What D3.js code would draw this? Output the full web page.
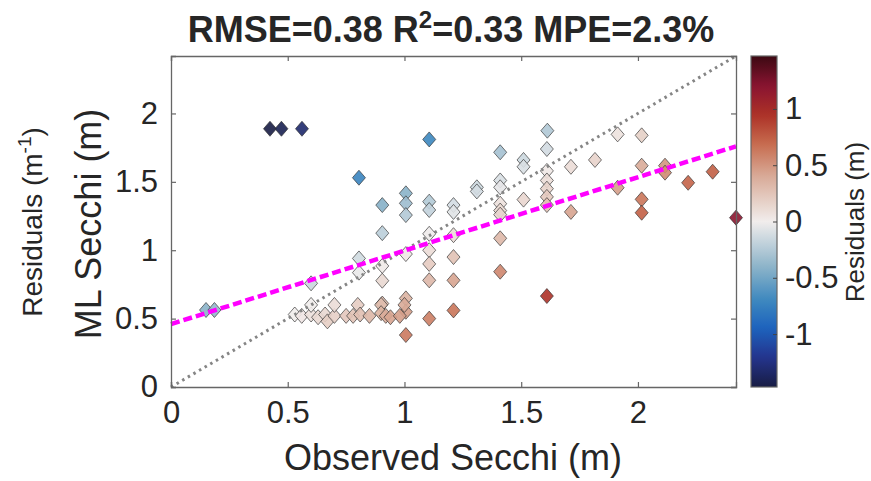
<!DOCTYPE html>
<html>
<head>
<meta charset="utf-8">
<script src="https://cdn.jsdelivr.net/npm/d3@7"></script>
<style>
  body { margin: 0; background: #fff; }
  text { font-family: "Liberation Sans", Arial, Helvetica, sans-serif; fill: #262626; }
</style>
</head>
<body>
<script>
var W = 871, H = 481;
var plot = {left: 171, right: 736, top: 56, bottom: 387};
var axisMax = 2.42;

// observed / ML-predicted Secchi depth (m)
var observed = [0.424, 0.473, 0.561, 1.106, 0.805, 0.15, 0.186, 0.60, 0.805, 0.805,
  0.905, 0.905, 0.905, 0.905, 0.905,
  1.006, 1.006, 1.006, 1.006, 1.006, 1.006, 1.006,
  1.106, 1.106, 1.106, 1.106, 1.106, 1.106, 1.106,
  1.21, 1.21, 1.21, 1.21, 1.21, 1.21,
  1.31, 1.31,
  1.41, 1.41, 1.41, 1.41, 1.41, 1.41, 1.41, 1.41,
  1.51, 1.51, 1.51,
  1.612, 1.61, 1.61, 1.61, 1.61, 1.61, 1.61, 1.61,
  1.713, 1.713, 1.816, 1.913, 1.913,
  2.016, 2.016, 2.016, 2.016, 2.116, 2.116, 2.215, 2.32, 2.42,
  0.53, 0.56, 0.60, 0.60, 0.63, 0.66, 0.67, 0.70, 0.70, 0.75,
  0.78, 0.80, 0.81, 0.85, 0.90, 0.90, 0.92, 0.94, 0.98, 1.00];
var predicted = [1.888, 1.888, 1.888, 1.81, 1.53, 0.563, 0.563, 0.758, 0.94, 0.836,
  1.33, 1.125, 0.885, 0.777, 0.61,
  1.416, 1.343, 1.257, 0.972, 0.648, 0.55, 0.38,
  1.355, 1.294, 1.12, 1.0, 0.90, 0.78, 0.50,
  1.33, 1.28, 1.11, 0.95, 0.78, 0.56,
  1.46, 1.43,
  1.716, 1.51, 1.46, 1.34, 1.29, 1.26, 1.087, 0.843,
  1.66, 1.61, 1.37,
  1.874, 1.74, 1.58, 1.51, 1.45, 1.39, 1.33, 0.665,
  1.61, 1.28, 1.66, 1.847, 1.457,
  1.84, 1.618, 1.372, 1.274, 1.618, 1.567, 1.493, 1.574, 1.238,
  0.53, 0.52, 0.53, 0.60, 0.51, 0.53, 0.48, 0.52, 0.60, 0.52,
  0.52, 0.60, 0.53, 0.52, 0.60, 0.54, 0.52, 0.51, 0.52, 0.60];

var tickValues = [0, 0.5, 1, 1.5, 2];
var cbarTicks = [-1, -0.5, 0, 0.5, 1];
var cbarMax = 1.47;
var fitIntercept = 0.46, fitSlope = 0.537;

// balance-like diverging colormap (residual value -> colour)
var cmapStops = [-1.47, -1.2, -0.95, -0.7, -0.4, 0, 0.4, 0.7, 0.95, 1.2, 1.47];
var cmapColors = ["#181c43", "#24358f", "#1d62bd", "#3d88bf", "#8db4c9", "#f1edec",
                  "#d9ab98", "#c6694c", "#ac3127", "#8a1431", "#3c0912"];

var svg = d3.select("body").append("svg")
  .attr("width", W).attr("height", H);

var x = d3.scaleLinear().domain([0, axisMax]).range([plot.left, plot.right]);
var y = d3.scaleLinear().domain([0, axisMax]).range([plot.bottom, plot.top]);
var color = d3.scaleLinear().domain(cmapStops).range(cmapColors).clamp(true);

var points = observed.map(function(o, i){ return {obs: o, pred: predicted[i], res: o - predicted[i]}; });

svg.append("rect")
  .attr("x", plot.left).attr("y", plot.top)
  .attr("width", plot.right - plot.left).attr("height", plot.bottom - plot.top)
  .attr("fill", "#fff");

// diamonds
function diamond(w, h) { return "M0," + (-h) + "L" + w + ",0L0," + h + "L" + (-w) + ",0Z"; }
svg.append("g").selectAll("path")
  .data(points)
  .enter().append("path")
  .attr("d", diamond(6.5, 7.5))
  .attr("transform", function(d){ return "translate(" + x(d.obs) + "," + y(d.pred) + ")"; })
  .attr("fill", function(d){ return color(d.res); })
  .attr("fill-opacity", 0.9)
  .attr("stroke", "#333")
  .attr("stroke-opacity", 0.75)
  .attr("stroke-width", 0.9);

// 1:1 line
svg.append("path")
  .datum([0, axisMax])
  .attr("d", d3.line().x(function(d){ return x(d); }).y(function(d){ return y(d); }))
  .attr("stroke", "#858585").attr("stroke-width", 3)
  .attr("stroke-dasharray", "2.5,4").attr("fill", "none");

// fit line
svg.append("path")
  .datum([0, axisMax])
  .attr("d", d3.line().x(function(d){ return x(d); }).y(function(d){ return y(fitIntercept + fitSlope * d); }))
  .attr("stroke", "#ff00ff").attr("stroke-width", 4.5)
  .attr("stroke-dasharray", "9,4").attr("fill", "none");

// axes
var xAxis = d3.axisBottom(x).tickValues(tickValues).tickSize(-5).tickPadding(14).tickFormat(d3.format(""));
var yAxis = d3.axisLeft(y).tickValues(tickValues).tickSize(-5).tickPadding(13).tickFormat(d3.format(""));
var xTop = d3.axisTop(x).tickValues(tickValues).tickSize(-5).tickFormat("");
var yRight = d3.axisRight(y).tickValues(tickValues).tickSize(-5).tickFormat("");

svg.append("g").attr("transform", "translate(0," + plot.bottom + ")").call(xAxis);
svg.append("g").attr("transform", "translate(" + plot.left + ",0)").call(yAxis);
svg.append("g").attr("transform", "translate(0," + plot.top + ")").call(xTop);
svg.append("g").attr("transform", "translate(" + plot.right + ",0)").call(yRight);

svg.selectAll(".domain").attr("stroke", "#666").attr("stroke-width", 1.3);
svg.selectAll(".tick line").attr("stroke", "#666").attr("stroke-width", 1.2);
svg.selectAll(".tick text").style("font-size", "31px").attr("fill", "#262626");

// title
var title = svg.append("text")
  .attr("x", 451).attr("y", 42)
  .attr("text-anchor", "middle")
  .style("font-size", "36px").style("font-weight", "bold");
title.append("tspan").text("RMSE=0.38 R");
title.append("tspan").attr("dy", -14).style("font-size", "24px").text("2");
title.append("tspan").attr("dy", 14).text("=0.33 MPE=2.3%");

// axis labels
svg.append("text")
  .attr("x", 453).attr("y", 470)
  .attr("text-anchor", "middle")
  .style("font-size", "36px")
  .text("Observed Secchi (m)");

svg.append("text")
  .attr("transform", "translate(101,224) rotate(-90)")
  .attr("text-anchor", "middle")
  .style("font-size", "36px")
  .text("ML Secchi (m)");

var resLabel = svg.append("text")
  .attr("transform", "translate(42,222) rotate(-90)")
  .attr("text-anchor", "middle")
  .style("font-size", "28px");
resLabel.append("tspan").text("Residuals (m");
resLabel.append("tspan").attr("dy", -11).style("font-size", "19px").text("-1");
resLabel.append("tspan").attr("dy", 11).text(")");

// colorbar
var cbar = {left: 751, right: 777, top: 56, bottom: 387};
var cy = d3.scaleLinear().domain([-cbarMax, cbarMax]).range([cbar.bottom, cbar.top]);

var grad = svg.append("defs").append("linearGradient")
  .attr("id", "cmap").attr("x1", 0).attr("y1", 1).attr("x2", 0).attr("y2", 0);
grad.selectAll("stop")
  .data(d3.range(0, 61))
  .enter().append("stop")
  .attr("offset", function(d){ return d / 60; })
  .attr("stop-color", function(d){ return color(-cbarMax + d / 60 * 2 * cbarMax); });

svg.append("rect")
  .attr("x", cbar.left).attr("y", cbar.top)
  .attr("width", cbar.right - cbar.left).attr("height", cbar.bottom - cbar.top)
  .attr("fill", "url(#cmap)")
  .attr("stroke", "#666").attr("stroke-width", 1.2);

var cAxis = d3.axisRight(cy).tickValues(cbarTicks).tickSize(-4).tickPadding(8).tickFormat(d3.format(""));
var gc = svg.append("g").attr("transform", "translate(" + cbar.right + ",0)").call(cAxis);
gc.select(".domain").remove();
gc.selectAll(".tick line").attr("stroke", "#444").attr("stroke-width", 1);
gc.selectAll(".tick text").style("font-size", "31px").attr("fill", "#262626")
  .text(function(d){ return d3.format("")(d).replace("−", "-"); });

svg.append("text")
  .attr("transform", "translate(855,222) rotate(-90)")
  .attr("text-anchor", "middle")
  .attr("dominant-baseline", "central")
  .style("font-size", "26px")
  .text("Residuals (m)");
</script>
</body>
</html>
